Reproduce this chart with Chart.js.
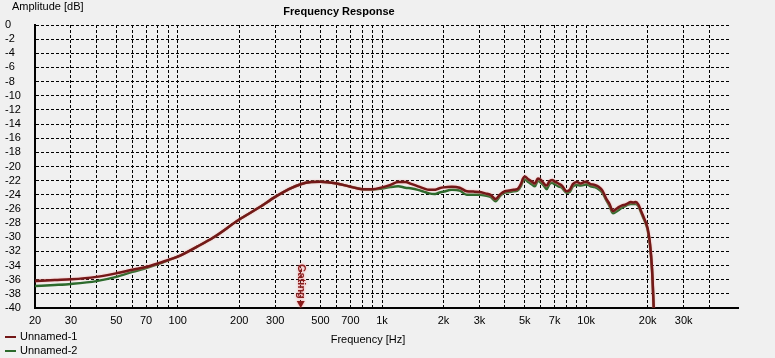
<!DOCTYPE html>
<html><head><meta charset="utf-8">
<script src="https://cdn.jsdelivr.net/npm/chart.js@4/dist/chart.umd.min.js"></script>
<style>html,body{margin:0;padding:0;background:#f0f0f0;overflow:hidden}canvas{display:block;background:#f0f0f0}</style>
</head><body>
<canvas id="c" width="775" height="358"></canvas>
<script>
// ---- data ----
const freqs = [20,25,30,40,50,60,70,80,90,100,125,150,200,250,300,350,400,450,500,600,700,800,900,
  1000,1100,1200,1300,1400,1500,1600,1700,1800,1900,2000,2200,2400,2600,2800,3000,3200,3400,3600,3800,
  4000,4200,4400,4600,4800,4900,5000,5200,5400,5600,5800,6000,6200,6400,6600,6800,7000,7300,7600,
  8000,8300,8600,9000,9400,9800,10000,10500,11000,11500,12000,12500,13000,13500,14000,14500,15000,
  15500,16000,16500,17000,17500,18000,18500,19000,19500,20000,20500,21000,21400];
const unnamed1 = [-36.2,-36.05,-35.95,-35.6,-35.1,-34.6,-34.2,-33.7,-33.2,-32.75,-31.3,-30.0,-27.5,-25.8,-24.3,-23.2,-22.5,-22.2,-22.15,-22.4,-22.85,-23.2,-23.2,
  -22.95,-22.6,-22.2,-22.2,-22.5,-22.8,-23.1,-23.3,-23.3,-23.1,-22.95,-22.85,-23.0,-23.5,-23.55,-23.6,-23.8,-24.0,-24.6,-23.9,
  -23.5,-23.4,-23.3,-23.2,-22.4,-21.7,-21.4,-21.8,-22.1,-22.4,-21.7,-21.9,-22.4,-22.7,-22.1,-21.9,-22.1,-22.4,-22.7,
  -23.5,-23.3,-22.5,-22.2,-22.4,-22.2,-22.15,-22.5,-22.6,-22.85,-23.4,-24.5,-25.3,-26.3,-26.0,-25.7,-25.5,
  -25.4,-25.2,-25.0,-25.1,-25.0,-25.4,-26.2,-27.0,-27.8,-28.8,-30.8,-34.5,-40.0];
const unnamed2 = [-36.9,-36.75,-36.6,-36.2,-35.6,-34.9,-34.35,-33.8,-33.25,-32.75,-31.3,-30.0,-27.5,-25.8,-24.3,-23.2,-22.5,-22.2,-22.15,-22.4,-22.85,-23.2,-23.25,
  -23.1,-22.9,-22.8,-23.0,-23.1,-23.3,-23.55,-23.8,-23.9,-23.7,-23.55,-23.3,-23.4,-24.0,-24.0,-24.0,-24.1,-24.3,-24.9,-24.1,
  -23.7,-23.6,-23.5,-23.4,-22.7,-22.0,-21.8,-22.2,-22.5,-22.8,-22.0,-22.3,-22.7,-23.2,-22.5,-22.3,-22.5,-22.8,-23.0,
  -23.7,-23.6,-22.8,-22.6,-22.7,-22.6,-22.5,-22.8,-22.9,-23.2,-23.7,-24.7,-25.6,-26.6,-26.4,-26.1,-25.8,
  -25.6,-25.4,-25.3,-25.3,-25.3,-25.6,-26.4,-27.2,-28.0,-29.0,-31.0,-34.7,-40.0];
const seriesNames = ['Unnamed-1','Unnamed-2'];
const xTicks = [20,30,40,50,60,70,80,90,100,200,300,400,500,600,700,800,900,1000,2000,3000,4000,5000,6000,7000,8000,9000,10000,20000,30000,40000];
const xTickLabels = {20:'20',30:'30',50:'50',70:'70',100:'100',200:'200',300:'300',500:'500',700:'700',1000:'1k',2000:'2k',3000:'3k',5000:'5k',7000:'7k',10000:'10k',20000:'20k',30000:'30k'};
const gatingFreq = 400;

// ---- styling ----
const FONT = "'Liberation Sans', Arial, sans-serif";
const colors = ['#731818','#2c6a2c'];

const textPlugin = {
  id: 'texts',
  beforeDatasetDraw(chart, args) {
    if (args.index === 0) {
      chart.ctx.save();
      chart.ctx.shadowColor = 'rgba(255,140,140,0.7)';
      chart.ctx.shadowBlur = 2;
    }
  },
  afterDatasetDraw(chart, args) {
    if (args.index === 0) chart.ctx.restore();
  },
  afterDraw(chart) {
    const ctx = chart.ctx, ca = chart.chartArea;
    ctx.save();
    ctx.fillStyle = '#000';
    ctx.textBaseline = 'middle';
    ctx.font = '11px ' + FONT;
    ctx.textAlign = 'left';
    ctx.fillText('Amplitude [dB]', 12, 7);
    ctx.textAlign = 'center';
    ctx.fillText('Frequency [Hz]', 368, 340);
    ctx.font = 'bold 11px ' + FONT;
    ctx.fillText('Frequency Response', 339, 12);
    // bottom axis extension
    ctx.strokeStyle = '#000'; ctx.lineWidth = 2;
    ctx.beginPath(); ctx.moveTo(ca.right - 1, ca.bottom); ctx.lineTo(739, ca.bottom); ctx.stroke();
    // legend
    ctx.font = '11px ' + FONT; ctx.textAlign = 'left';
    seriesNames.forEach((n, i) => {
      const y = 337 + i * 14;
      ctx.strokeStyle = colors[i]; ctx.lineWidth = 2;
      ctx.beginPath(); ctx.moveTo(5, y); ctx.lineTo(16, y); ctx.stroke();
      ctx.fillStyle = '#000';
      ctx.fillText(n, 20, y);
    });
    // gating marker
    const gx = chart.scales.x.getPixelForValue(gatingFreq);
    ctx.shadowColor = 'rgba(255,120,120,0.8)'; ctx.shadowBlur = 3;
    ctx.fillStyle = '#8a1c1c';
    ctx.font = 'bold 11px ' + FONT;
    ctx.translate(gx, 264);
    ctx.rotate(Math.PI / 2);
    ctx.textAlign = 'left';
    ctx.fillText('Gating', 0, 0);
    ctx.setTransform(1,0,0,1,0,0);
    ctx.beginPath();
    ctx.moveTo(gx - 4, 301); ctx.lineTo(gx + 4, 301); ctx.lineTo(gx, 308); ctx.closePath();
    ctx.fill();
    ctx.restore();
  }
};

new Chart(document.getElementById('c'), {
  type: 'line',
  data: {
    datasets: [unnamed1, unnamed2].map((vals, i) => ({
      label: seriesNames[i],
      data: freqs.map((f, k) => ({x: f, y: vals[k]})),
      borderColor: colors[i],
      borderWidth: 2.5,
      pointRadius: 0,
      cubicInterpolationMode: 'monotone',
      fill: false
    }))
  },
  options: {
    responsive: false,
    animation: false,
    devicePixelRatio: 1,
    layout: {padding: {left: 5, right: 46, top: 25, bottom: 0}},
    plugins: {legend: {display: false}, title: {display: false}, tooltip: {enabled: false}},
    scales: {
      x: {
        type: 'logarithmic', min: 20, max: 50000,
        afterBuildTicks: s => { s.ticks = xTicks.map(v => ({value: v})); },
        afterFit: s => { s.height = 50; },
        ticks: {autoSkip: false, maxRotation: 0, padding: 6, color: '#000',
          font: {family: FONT, size: 11},
          callback: v => xTickLabels[v] || ''},
        grid: {color: '#000', lineWidth: 1, drawTicks: false},
        border: {display: true, color: '#000', width: 2, dash: [3, 2]}
      },
      y: {
        min: -40, max: 0,
        afterFit: s => { s.width = 30; },
        ticks: {stepSize: 2, autoSkip: false, crossAlign: 'far', color: '#000', font: {family: FONT, size: 11}},
        grid: {color: '#000', lineWidth: 1, drawTicks: false},
        border: {display: true, color: '#000', width: 2, dash: [3, 2]}
      }
    }
  },
  plugins: [textPlugin]
});
</script>
</body></html>
